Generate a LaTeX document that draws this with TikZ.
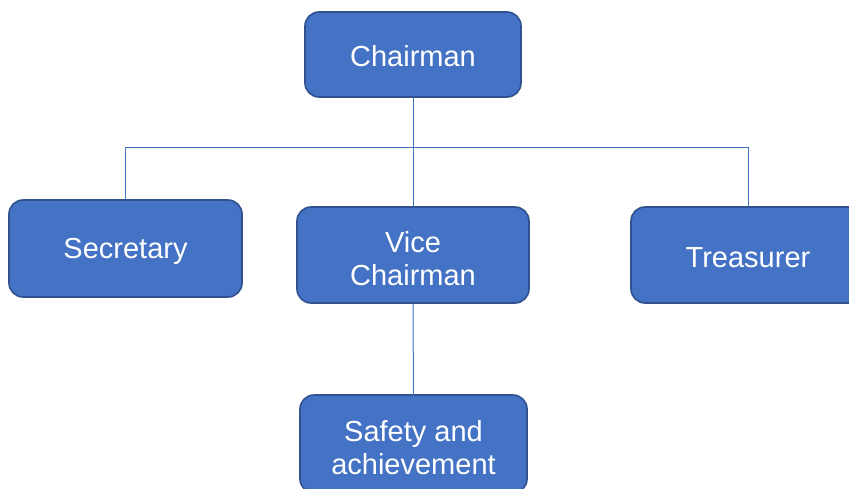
\documentclass[tikz,border=0pt]{standalone}
\usepackage{fontspec}
\setmainfont{Liberation Sans}
\definecolor{boxfill}{HTML}{4472C4}
\definecolor{boxedge}{HTML}{2F528F}
\definecolor{linkc}{HTML}{4472C4}
\newcommand\myStrut[1]{\rule{0pt}{#1}}
\begin{document}
\begin{tikzpicture}[x=1pt,y=-1pt,
  role/.style={draw=boxedge,line width=1.6pt,fill=boxfill,rounded corners=14pt,
    text=white,font=\fontsize{29}{33}\selectfont,align=center,inner sep=0pt},
  link/.style={draw=linkc,line width=1pt}]
\useasboundingbox (0,0) rectangle (849,488);
\node[role,minimum width=216pt,minimum height=85pt] (chair) at (413,54.5) {\myStrut{24pt}Chairman};
\node[role,minimum width=233pt,minimum height=97pt] (sec) at (125.5,248.5) {\myStrut{27pt}Secretary};
\node[role,minimum width=232pt,minimum height=96pt] (vice) at (413,255) {\myStrut{28pt}Vice\\Chairman};
\node[role,minimum width=234pt,minimum height=96pt] (tre) at (748,255) {\myStrut{25pt}Treasurer};
\node[role,minimum width=227pt,minimum height=98pt] (safe) at (413.5,444) {\myStrut{28pt}Safety and\\achievement};
\coordinate (bus) at (413,147.5);
\draw[link] (chair.south) -- (vice.north);
\draw[link] (sec.north) -- (sec.north |- bus) -- (tre.north |- bus) -- (tre.north);
\draw[link] (vice.south) -- ([yshift=-6pt]safe.north);
\end{tikzpicture}
\end{document}
